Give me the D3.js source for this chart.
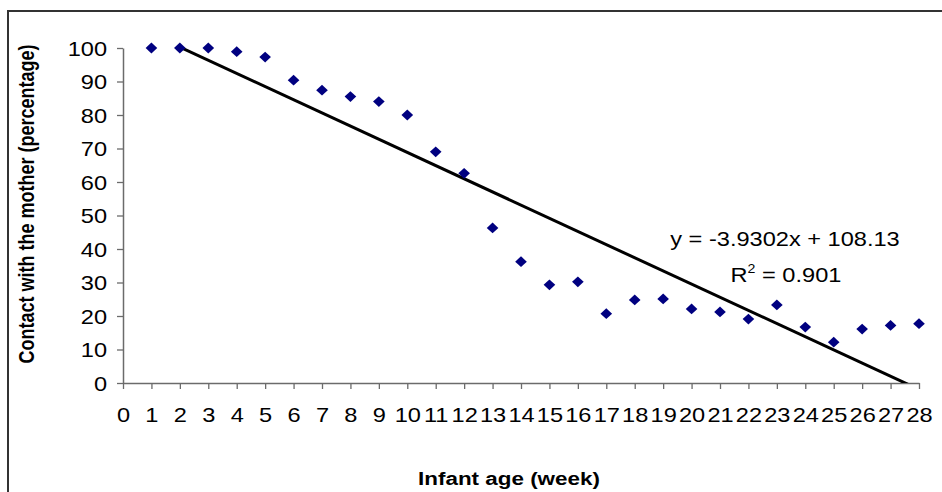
<!DOCTYPE html>
<html>
<head>
<meta charset="utf-8">
<script src="https://cdn.jsdelivr.net/npm/d3@7"></script>
<style>
  html, body { margin: 0; padding: 0; background: #fff; }
  svg { display: block; font-family: "Liberation Sans", Arial, sans-serif; }
  .wide { transform-box: fill-box; transform-origin: center; transform: scaleX(1.18); }
  .wide-right { transform-box: fill-box; transform-origin: right center; transform: scaleX(1.18); }
</style>
</head>
<body>
<svg id="chart" width="942" height="492"></svg>
<script>
// Infant age in weeks and share of time in contact with the mother (%)
const weeks = [1, 2, 3, 4, 5, 6, 7, 8, 9, 10, 11, 12, 13, 14, 15, 16, 17, 18, 19, 20, 21, 22, 23, 24, 25, 26, 27, 28];
const contact = [100, 100, 100, 98.9, 97.3, 90.4, 87.4, 85.5, 84.0, 80.0, 69.0, 62.6, 46.3, 36.2, 29.3, 30.2,
                 20.7, 24.8, 25.1, 22.1, 21.2, 19.1, 23.3, 16.7, 12.2, 16.1, 17.2, 17.7];

// Linear trend fitted to the series
const trendSlope = -3.9302;
const trendIntercept = 108.13;
const trendR2 = 0.901;

const xTicks = d3.range(0, 29, 1);
const yTicks = [0, 10, 20, 30, 40, 50, 60, 70, 80, 90, 100];

const svg = d3.select("#chart");

// outer chart frame
svg.append("rect")
  .attr("x", 8).attr("y", 11)
  .attr("width", 960).attr("height", 520)
  .attr("fill", "none").attr("stroke", "#333").attr("stroke-width", 2);

const plot = { left: 123, right: 919, top: 48, bottom: 383 };

const x = d3.scaleLinear().domain([0, 28]).range([plot.left, plot.right]);
const y = d3.scaleLinear().domain([0, 100]).range([plot.bottom, plot.top]);

svg.append("clipPath").attr("id", "plotClip")
  .append("rect")
  .attr("x", plot.left).attr("y", plot.top - 1)
  .attr("width", plot.right - plot.left).attr("height", plot.bottom - plot.top + 1);

// axes
const axisColor = "#6b6b6b";
const yAxis = svg.append("g")
  .attr("transform", `translate(${plot.left},0)`)
  .call(d3.axisLeft(y).tickValues(yTicks).tickSize(6).tickPadding(10).tickSizeOuter(0));
const xAxis = svg.append("g")
  .attr("transform", `translate(0,${plot.bottom})`)
  .call(d3.axisBottom(x).tickValues(xTicks).tickSize(6).tickPadding(19).tickSizeOuter(0));

[yAxis, xAxis].forEach(g => {
  g.select(".domain").attr("stroke", axisColor).attr("stroke-width", 1.5);
  g.selectAll(".tick line").attr("stroke", axisColor).attr("stroke-width", 1.3);
  g.selectAll(".tick text").attr("fill", "#000").attr("font-size", 20)
    .attr("font-family", "Liberation Sans, Arial, sans-serif");
});
yAxis.selectAll(".tick text").attr("class", "wide-right").attr("dy", "0.36em");
xAxis.selectAll(".tick text").attr("class", "wide");

// trend line, clipped to the plot area
const trend = d3.line().x(d => x(d)).y(d => y(trendSlope * d + trendIntercept));
svg.append("path")
  .datum([0, 28])
  .attr("clip-path", "url(#plotClip)")
  .attr("d", trend)
  .attr("fill", "none").attr("stroke", "#000").attr("stroke-width", 3);

// data markers
const diamond = d3.symbol().type(d3.symbolSquare).size(58);
svg.append("g").selectAll("path")
  .data(weeks.map((w, i) => ({ w, v: contact[i] })))
  .join("path")
  .attr("d", diamond)
  .attr("transform", d => `translate(${x(d.w)},${y(d.v)}) scale(1.08,1) rotate(45)`)
  .attr("fill", "#000080");

// trend equation and R²
const eq = svg.append("g").attr("font-size", 20).attr("fill", "#000");
eq.append("text")
  .attr("class", "wide")
  .attr("x", 785).attr("y", 246).attr("text-anchor", "middle")
  .text(`y = ${trendSlope}x + ${trendIntercept}`);
const r2 = eq.append("text")
  .attr("class", "wide")
  .attr("x", 786).attr("y", 282).attr("text-anchor", "middle");
r2.append("tspan").text("R");
r2.append("tspan").attr("font-size", 12).attr("dy", -9).text("2");
r2.append("tspan").attr("dy", 9).text(` = ${trendR2}`);

// axis titles
svg.append("text")
  .attr("class", "wide")
  .attr("x", 509).attr("y", 485).attr("text-anchor", "middle")
  .attr("font-size", 19).attr("font-weight", "bold")
  .text("Infant age (week)");

svg.append("g")
  .attr("transform", "translate(34,204) scale(1.18,1) rotate(-90)")
  .append("text")
  .attr("text-anchor", "middle")
  .attr("font-size", 18).attr("font-weight", "bold")
  .text("Contact with the mother (percentage)");
</script>
</body>
</html>
